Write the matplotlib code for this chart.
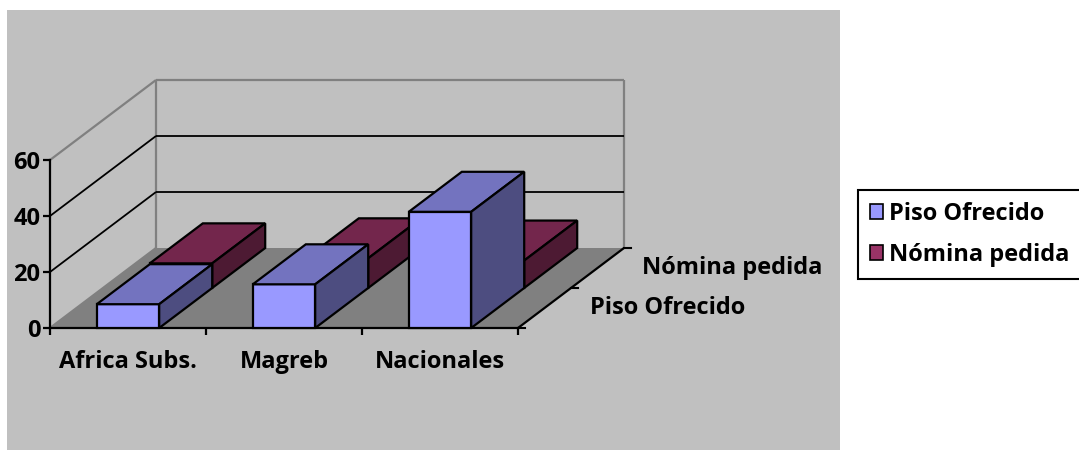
import matplotlib
matplotlib.use('Agg')
import matplotlib.pyplot as plt
from matplotlib.patches import Polygon, Rectangle, Patch

# datos del gráfico
categorias = ['Africa Subs.', 'Magreb', 'Nacionales']
series = ['Piso Ofrecido', 'Nómina pedida']
piso_ofrecido = [8.5, 15.6, 41.5]
nomina_pedida = [8.8, 10.6, 9.8]
y_ticks = [0, 20, 40, 60]

plt.rcParams['font.family'] = ['Open Sans', 'DejaVu Sans']
plt.rcParams['font.weight'] = 'bold'
plt.rcParams['font.size'] = 17

W, H = 1079, 450
fig = plt.figure(figsize=(W / 100, H / 100), dpi=100)
fig.add_artist(Rectangle((7 / W, 0), 833 / W, 440 / H, transform=fig.transFigure,
                         facecolor='#C0C0C0', edgecolor='none', zorder=-1))

# ejes = plano frontal del gráfico 3D
ax = fig.add_axes([50 / W, 122 / H, 468 / W, 168 / H])
ymax = y_ticks[-1]
ax.set_xlim(0, len(categorias))
ax.set_ylim(0, ymax)
ax.patch.set_visible(False)

# desplazamiento de profundidad (en unidades de datos)
DX = 106 / 156
DY = 80 / 2.8


def p(x, y, d):
    return (x + d * DX, y + d * DY)


def linea(a, b, color, lw, z=1.5):
    pa, pb = p(*a), p(*b)
    ax.plot([pa[0], pb[0]], [pa[1], pb[1]], color=color, lw=lw, zorder=z,
            clip_on=False, solid_capstyle='butt')


n = len(categorias)
gris = '#808080'
# suelo
ax.add_patch(Polygon([p(0, 0, 0), p(n, 0, 0), p(n, 0, 1), p(0, 0, 1)],
                     closed=True, facecolor=gris, edgecolor='none', zorder=1, clip_on=False))
# paredes
linea((0, 0, 0), (0, 0, 1), gris, 1.6)
linea((0, ymax, 0), (0, ymax, 1), gris, 1.6)
linea((0, 0, 1), (0, ymax, 1), gris, 1.6)
linea((0, ymax, 1), (n, ymax, 1), gris, 1.6)
linea((n, 0, 1), (n, ymax, 1), gris, 1.6)
# líneas de división
for v in y_ticks[1:-1]:
    linea((0, v, 0), (0, v, 1), 'black', 1.3)
    linea((0, v, 1), (n, v, 1), 'black', 1.3)

# eje de profundidad
linea((n, 0, 0), (n, 0, 1), 'black', 1.6, z=2)
tick_x = 7 / 156
for d in [0, 0.5, 1]:
    x0, y0 = p(n, 0, d)
    ax.plot([x0, x0 + tick_x], [y0, y0], color='black', lw=1.5, clip_on=False, zorder=2)
for i, s in enumerate(series):
    ax.annotate(s, xy=p(n, 0, 0.25 + 0.5 * i), xytext=(45, 0), textcoords='offset pixels',
                ha='left', va='center', annotation_clip=False)

colores = [('#9999FF', '#7373BF', '#4D4D80'), ('#993366', '#73264C', '#4D1A33')]


def caja(x0, x1, h, d0, d1, col):
    front, top, side = col
    caras = [
        ([p(x0, 0, d0), p(x1, 0, d0), p(x1, h, d0), p(x0, h, d0)], front),
        ([p(x0, h, d0), p(x1, h, d0), p(x1, h, d1), p(x0, h, d1)], top),
        ([p(x1, 0, d0), p(x1, 0, d1), p(x1, h, d1), p(x1, h, d0)], side),
    ]
    for pts, c in caras:
        ax.add_patch(Polygon(pts, closed=True, facecolor=c, edgecolor='black', lw=1.6,
                             joinstyle='miter', zorder=3, clip_on=False))


ancho = 0.4
valores = [piso_ofrecido, nomina_pedida]
# primero la serie del fondo
for k in [1, 0]:
    for i, v in enumerate(valores[k]):
        caja(i + 0.5 - ancho / 2, i + 0.5 + ancho / 2, v, 0.5 * k, 0.5 * k + 0.5, colores[k])

# ejes
for s in ['top', 'right']:
    ax.spines[s].set_visible(False)
for s in ['left', 'bottom']:
    ax.spines[s].set_linewidth(1.6)
    ax.spines[s].set_zorder(2.5)
ax.set_yticks(y_ticks)
ax.tick_params(axis='y', direction='out', length=5, width=1.6, pad=2)
ax.set_xticks(range(n + 1))
ax.set_xticklabels([])
ax.set_xticks([i + 0.5 for i in range(n)], minor=True)
ax.set_xticklabels(categorias, minor=True)
ax.tick_params(axis='x', which='major', direction='out', length=5, width=1.6)
ax.tick_params(axis='x', which='minor', length=0, pad=16)

# leyenda
handles = [Patch(facecolor=colores[k][0], edgecolor='black', lw=1.2) for k in range(2)]
leg = fig.legend(handles, series, loc='upper left', bbox_to_anchor=(858 / W, 1 - 190 / H),
                 frameon=True, fancybox=False, edgecolor='black', framealpha=1,
                 borderpad=0.5, labelspacing=0.72, handlelength=0.55, handleheight=0.55,
                 handletextpad=0.25, borderaxespad=0)
leg.get_frame().set_linewidth(1.5)

fig.savefig('out.png', dpi=100)
